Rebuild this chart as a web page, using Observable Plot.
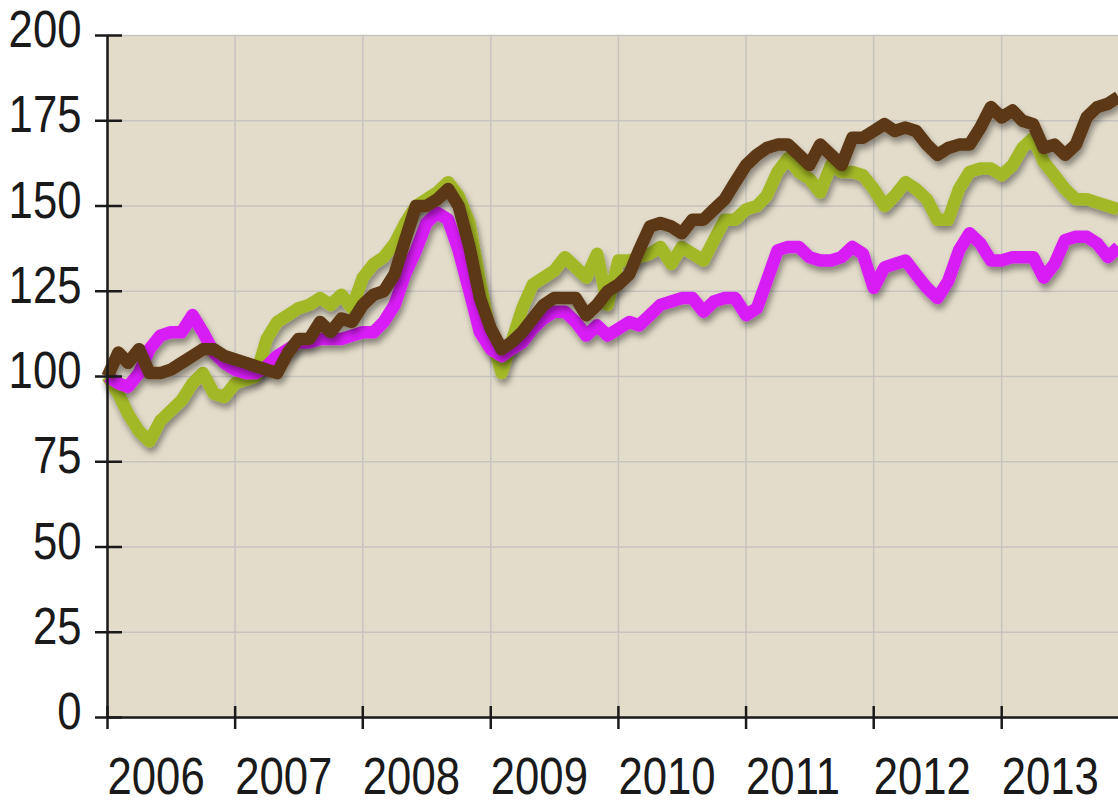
<!DOCTYPE html>
<html><head><meta charset="utf-8">
<script src="https://cdn.jsdelivr.net/npm/d3@7"></script>
<script src="https://cdn.jsdelivr.net/npm/@observablehq/plot@0.6"></script>
<style>
html,body{margin:0;padding:0;background:#fff;overflow:hidden;}
#chart svg text{font-family:"Liberation Sans",Arial,sans-serif;}
</style></head><body><div id="chart"></div>
<script>
// monthly index values, Jan 2006 .. Dec 2013
const yearTicks = [2006, 2007, 2008, 2009, 2010, 2011, 2012, 2013];
const yTicks = [0, 25, 50, 75, 100, 125, 150, 175, 200];

const greenSeries = [
  100, 95, 89, 84, 81, 87, 90, 93, 98, 101, 95, 94,
  98, 99, 100, 111, 116, 118, 120, 121, 123, 121, 124, 120,
  129, 133, 135, 139, 145, 150, 152, 154, 157, 153, 145, 128,
  112, 101, 110, 120, 127, 129, 131, 135, 132, 129, 136, 121,
  134, 134, 135, 136, 138, 133, 138, 136, 134, 140, 146, 146,
  149, 150, 153, 160, 164, 160, 158, 154, 162, 160, 160, 159,
  155, 150, 153, 157, 155, 152, 146, 146, 155, 160, 161, 161,
  159, 162, 167, 170, 163, 159, 155, 152, 152, 151, 150, 149
];
const magentaSeries = [
  100, 98, 97, 101, 108, 112, 113, 113, 118, 113, 107, 104,
  102, 101, 101, 103, 106, 108, 110, 110, 111, 111, 111, 112,
  113, 113, 116, 121, 130, 137, 145, 148, 146, 137, 125, 113,
  108, 106, 108, 110, 114, 117, 119, 119, 116, 112, 115, 112,
  114, 116, 115, 118, 121, 122, 123, 123, 119, 122, 123, 123,
  118, 120, 128, 137, 138, 138, 135, 134, 134, 135, 138, 136,
  126, 132, 133, 134, 130, 126, 123, 128, 137, 142, 139, 134,
  134, 135, 135, 135, 129, 133, 140, 141, 141, 139, 135, 138
];
const brownSeries = [
  100, 107, 104, 108, 101, 101, 102, 104, 106, 108, 108, 106,
  105, 104, 103, 102, 101, 107, 111, 111, 116, 113, 117, 116,
  121, 124, 125, 130, 140, 150, 150, 152, 155, 150, 138, 123,
  114, 108, 110, 113, 117, 121, 123, 123, 123, 118, 121, 125,
  127, 130, 137, 144, 145, 144, 142, 146, 146, 149, 152, 157,
  162, 165, 167, 168, 168, 165, 162, 168, 165, 162, 170, 170,
  172, 174, 172, 173, 172, 168, 165, 167, 168, 168, 173, 179,
  176, 178, 175, 174, 167, 168, 165, 168, 176, 179, 180, 182
];
const seriesColors = ["#a3b827", "#d81ef6", "#5c3713"];

function toRows(values) {
  return values.map((v, i) => ({date: new Date(Date.UTC(2006, i, 1)), value: v}));
}
const greenRows = toRows(greenSeries);
const magentaRows = toRows(magentaSeries);
const brownRows = toRows(brownSeries);
const xTickDates = yearTicks.map(y => new Date(Date.UTC(y, 0, 1)));
const xDomain = [greenRows[0].date, greenRows[greenRows.length - 1].date];

const lineOpts = {x: "date", y: "value", strokeWidth: 12.5, strokeLinejoin: "round", strokeLinecap: "butt"};
const fs = 52;
const ink = "#1a1a1a";

const chart = Plot.plot({
  width: 1118,
  height: 801,
  marginLeft: 107,
  marginRight: 0,
  marginTop: 35,
  marginBottom: 84,
  style: {background: "#ffffff", overflow: "visible"},
  x: {type: "utc", domain: xDomain, axis: null, label: null},
  y: {domain: [0, 200], axis: null, label: null},
  marks: [
    Plot.frame({fill: "#e3dcca", stroke: "none"}),
    Plot.gridY(yTicks, {stroke: "#c7c4c0", strokeOpacity: 1, strokeWidth: 1.5}),
    Plot.gridX(xTickDates, {stroke: "#c7c4c0", strokeOpacity: 1, strokeWidth: 1.5}),
    Plot.lineY(greenRows, {...lineOpts, stroke: seriesColors[0], className: "shadowed"}),
    Plot.lineY(magentaRows, {...lineOpts, stroke: seriesColors[1], className: "shadowed"}),
    Plot.lineY(brownRows, {...lineOpts, stroke: seriesColors[2], className: "shadowed"}),
    Plot.ruleX([xDomain[0]], {stroke: ink, strokeWidth: 2.5}),
    Plot.ruleY([0], {stroke: ink, strokeWidth: 2.5}),
    Plot.axisY(yTicks, {label: null, tickSize: 27, dx: 15, tickFormat: () => "", stroke: ink, strokeWidth: 2.5}),
    Plot.axisY(yTicks, {label: null, tickSize: 0, tickPadding: 26, dy: -5, fontSize: fs, fill: ink, tickFormat: d => String(d), className: "squeeze"}),
    Plot.axisX(xTickDates, {label: null, tickSize: 23, dy: -11, tickFormat: () => "", stroke: ink, strokeWidth: 2.5}),
    Plot.axisX(xTickDates, {label: null, tickSize: 0, tickPadding: 40, textAnchor: "start", dx: 0, fontSize: fs, fill: ink, tickFormat: d => String(d.getUTCFullYear()), className: "squeeze"})
  ]
});

// drop shadow under the lines
const svg = d3.select(chart);
const defs = svg.insert("defs", ":first-child");
const f = defs.append("filter").attr("id", "lineShadow").attr("x", "-5%").attr("y", "-5%").attr("width", "110%").attr("height", "125%");
f.append("feDropShadow").attr("dx", 2).attr("dy", 5).attr("stdDeviation", 3).attr("flood-color", "#000").attr("flood-opacity", 0.4);
svg.selectAll(".shadowed").attr("filter", "url(#lineShadow)");

document.getElementById("chart").appendChild(chart);

// condensed look for the tick labels
svg.selectAll(".squeeze text").each(function() {
  const len = this.getComputedTextLength();
  if (len > 0) {
    this.setAttribute("textLength", (len * 0.84).toFixed(1));
    this.setAttribute("lengthAdjust", "spacingAndGlyphs");
  }
});
</script>
</body></html>
